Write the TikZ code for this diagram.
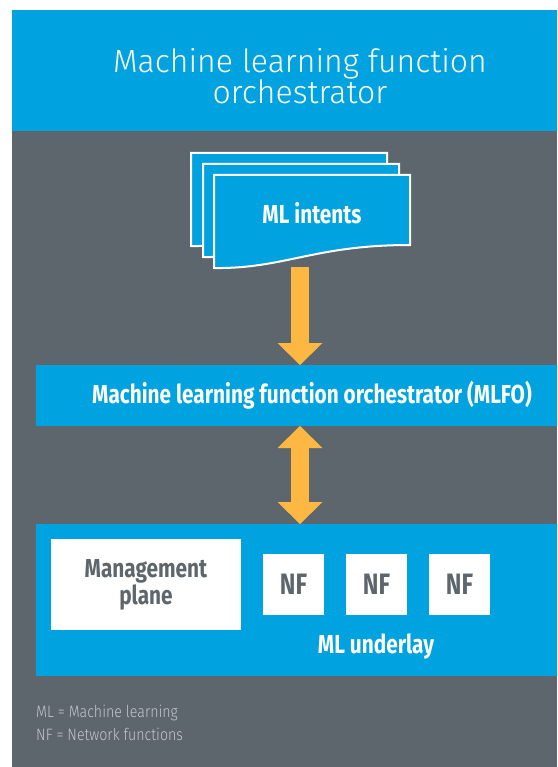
\documentclass[tikz,border=0pt]{standalone}
\usepackage{fontspec}
\usetikzlibrary{arrows.meta}

\setmainfont{Fira Sans}
\newfontfamily\titlefont{Fira Sans Light}
\newfontfamily\condfont{Fira Sans}[FakeStretch=0.8]
\newfontfamily\notefont{Fira Sans Light}[FakeStretch=0.86]

\definecolor{mlblue}{HTML}{00A3DF}
\definecolor{panelgrey}{HTML}{5D656D}
\definecolor{arroworange}{HTML}{FDB844}
\definecolor{notegrey}{HTML}{C3C7CB}

\tikzset{
  band/.style={fill=mlblue, inner sep=0pt, outer sep=0pt, anchor=north west},
  whitebox/.style={fill=white, inner sep=0pt, outer sep=0pt, text=panelgrey,
    font=\condfont\bfseries\fontsize{26}{26}\selectfont, align=center},
  nfbox/.style={whitebox, minimum width=61pt, minimum height=61pt,
    font=\condfont\bfseries\fontsize{29.5}{29.5}\selectfont},
  boldlabel/.style={text=white, inner sep=0pt,
    font=\condfont\bfseries\fontsize{26}{26}\selectfont},
  notelabel/.style={text=notegrey, inner sep=0pt, anchor=base west,
    font=\notefont\fontsize{16.5}{16.5}\selectfont},
  docsheet/.style={fill=mlblue, draw=white, line width=2pt, line join=miter},
  fatarrow/.style={draw=arroworange, line width=17.5pt},
  fattip/.tip={Triangle[length=22pt, width=45pt, line width=0pt]},
  intentdoc/.pic={
    \path[docsheet] (0,0) -- (196,0) -- (196,70)
      .. controls (100,70) and (70,94) .. (0,93) -- cycle;
  }
}

\begin{document}
\begin{tikzpicture}[x=1pt, y=-1pt]
  \useasboundingbox (0,0) rectangle (557,767);

  % title band and dark panel
  \node[band, minimum width=545pt, minimum height=121pt] (titleband) at (12,10) {};
  \node[band, fill=panelgrey, minimum width=545pt, minimum height=636pt] (panel) at (12,131) {};
  \node[text=white, inner sep=0pt, anchor=base, align=center,
        font=\titlefont\fontsize{32}{31}\selectfont] (title) at (300,103.3)
        {Machine learning function\\orchestrator};

  % stack of intent documents
  \pic at (191,153) {intentdoc};
  \pic at (203,164) {intentdoc};
  \pic at (214,175) {intentdoc};
  \node[boldlabel, anchor=base] (intents) at (312,223) {ML intents};
  \coordinate (docfoot) at (300,267);

  % orchestrator bar
  \node[band, minimum width=521pt, minimum height=61pt] (mlfo) at (36,365) {};
  \node[boldlabel, anchor=base] (mlfolabel) at (312,403)
        {Machine learning function orchestrator (MLFO)};

  % underlay with management plane and network functions
  \node[band, minimum width=521pt, minimum height=152pt] (under) at (36,524) {};
  \node[whitebox, minimum width=190pt, minimum height=91pt] (mgmt) at (146,584.5)
        {Management\\[1pt]plane};
  \node[nfbox] (nf1) at (293.5,584.5) {NF};
  \node[nfbox] (nf2) at (376.5,584.5) {NF};
  \node[nfbox] (nf3) at (459.5,584.5) {NF};
  \node[boldlabel, anchor=base] (underlabel) at (376,653) {ML underlay};

  % connectors
  \draw[fatarrow, -{fattip}] (docfoot) -- (docfoot |- mlfo.north);
  \draw[fatarrow, {fattip}-{fattip}] (mlfo.south -| docfoot) -- (docfoot |- under.north);

  % abbreviations
  \node[notelabel] (note1) at (36,717) {ML = Machine learning};
  \node[notelabel] (note2) at (36,740) {NF = Network functions};
\end{tikzpicture}
\end{document}
